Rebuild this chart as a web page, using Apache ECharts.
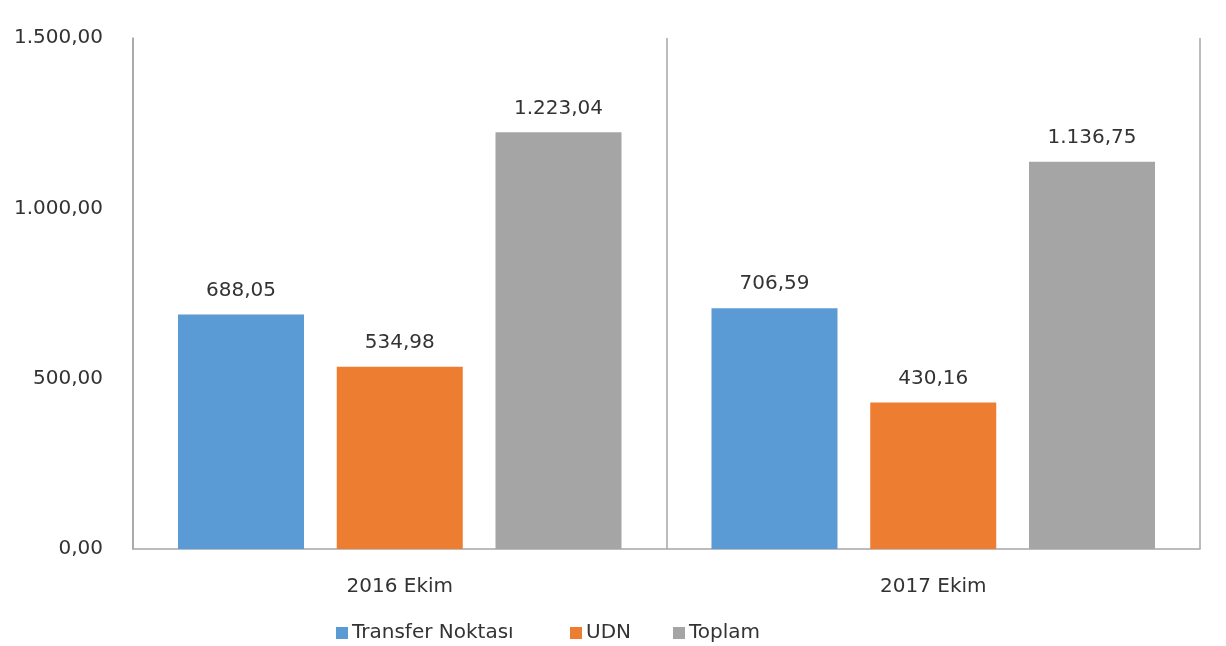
<!DOCTYPE html>
<html><head><meta charset="utf-8">
<script src="https://cdn.jsdelivr.net/npm/echarts@6/dist/echarts.min.js"></script>
<style>html,body{margin:0;padding:0;background:#fff}#c{width:1226px;height:646px}</style>
</head><body><div id="c"></div>
<script>
const categories = ['2016 Ekim', '2017 Ekim'];
const seriesNames = ['Transfer Noktası', 'UDN', 'Toplam'];
const transferNoktasi = [688.05, 706.59];
const udn = [534.98, 430.16];
const toplam = [1223.04, 1136.75];
const yTicks = [0, 500, 1000, 1500];

function trFmt(v) {
  const s = Number(v).toFixed(2).split('.');
  const intPart = s[0].replace(/\B(?=(\d{3})+(?!\d))/g, '.');
  return intPart + ',' + s[1];
}
const FONT = '"DejaVu Sans", sans-serif';
const FS = 20;
const TXT = '#333333';
const legendLefts = [331, 565, 668];
const chart = echarts.init(document.getElementById('c'));
const labelCfg = {show: true, position: 'top', distance: 14, color: TXT, fontSize: FS, fontFamily: FONT, formatter: p => trFmt(p.value)};
chart.setOption({
  animation: false,
  grid: {left: 133, right: 26, top: 38, bottom: 97},
  legend: seriesNames.map((n, i) => ({
    top: 618, left: legendLefts[i], itemWidth: 12, itemHeight: 12, icon: 'rect',
    textStyle: {fontSize: FS, color: TXT, fontFamily: FONT, padding: [0,0,0,-1]},
    data: [n]
  })),
  xAxis: {
    type: 'category', data: categories,
    axisLine: {lineStyle: {color: '#a6a6a6', width: 1.5}},
    axisTick: {show: false},
    splitLine: {show: true, lineStyle: {color: '#a6a6a6', width: 1.5}},
    axisLabel: {fontSize: FS, color: TXT, fontFamily: FONT, margin: 28}
  },
  yAxis: {
    type: 'value', min: yTicks[0], max: yTicks[yTicks.length-1], interval: yTicks[1]-yTicks[0],
    axisLine: {show: true, lineStyle: {color: '#a6a6a6', width: 1.5}},
    axisTick: {show: false},
    splitLine: {show: false},
    axisLabel: {fontSize: FS, color: TXT, fontFamily: FONT, margin: 30, formatter: v => trFmt(v)}
  },
  series: [
    {name: seriesNames[0], type: 'bar', data: transferNoktasi, itemStyle: {color: '#5b9bd5'}, barWidth: 126, barGap: '26%', label: labelCfg},
    {name: seriesNames[1], type: 'bar', data: udn, itemStyle: {color: '#ed7d31'}, barWidth: 126, barGap: '26%', label: labelCfg},
    {name: seriesNames[2], type: 'bar', data: toplam, itemStyle: {color: '#a5a5a5'}, barWidth: 126, barGap: '26%', label: labelCfg}
  ]
});
</script></body></html>
